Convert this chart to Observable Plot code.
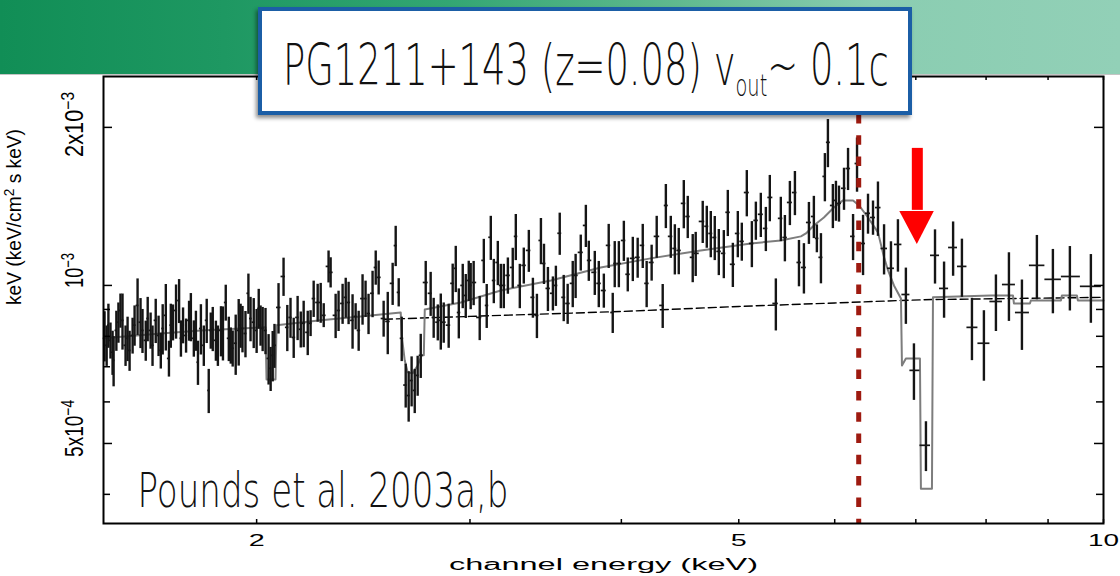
<!DOCTYPE html>
<html>
<head>
<meta charset="utf-8">
<script src="https://cdn.jsdelivr.net/npm/d3@7"></script>
<script src="https://cdn.jsdelivr.net/npm/@observablehq/plot@0.6"></script>
<style>
  html, body { margin: 0; padding: 0; background: #fff; }
  #wrap { position: relative; width: 1120px; height: 576px; overflow: hidden; background: #fff; }
  #chart { position: absolute; left: 0; top: 0; z-index: 1; }
  #banner {
    position: absolute; left: 0; top: 0; width: 1120px; height: 74px; z-index: 2;
    background: linear-gradient(90deg, #118e56 0%, #1e9862 20%, #33a673 40%, #5fb98e 60%, #8acdb1 78%, #92d0b7 100%);
    border-bottom: 1px solid #c4c4c4;
  }
  #titlebox {
    position: absolute; left: 258px; top: 7px; width: 646px; height: 100px; z-index: 3;
    background: #fff; border: 4px solid #1b5ea6;
    box-shadow: -2px 3px 4px rgba(0,0,0,0.45);
  }
  #titlebox svg { position: absolute; left: 0; top: 0; }
  #titlebox text { font-family: "DejaVu Sans", "Liberation Sans", sans-serif; font-weight: 200; fill: #111; }
</style>
</head>
<body>
<div id="wrap">
  <div id="chart"></div>
  <div id="banner"></div>
  <div id="titlebox">
    <svg width="646" height="100">
      <text id="title" x="0" y="0" font-size="57">PG1211+143 (z=0.08) v<tspan font-size="30" dy="11">out</tspan><tspan dy="-11">~ 0.1c</tspan></text>
    </svg>
  </div>
</div>
<script>
// Observed spectrum: channel energy (keV), flux and 1-sigma error (units of 1e-4 keV/cm^2 s keV)
const energy = [
  1.498, 1.504, 1.509, 1.515, 1.521, 1.524, 1.532, 1.538, 1.544, 1.550,
  1.559, 1.565, 1.571, 1.580, 1.586, 1.595, 1.604, 1.610, 1.620, 1.626,
  1.635, 1.641, 1.651, 1.660, 1.667, 1.673, 1.683, 1.693, 1.699, 1.706,
  1.716, 1.726, 1.732, 1.739, 1.749, 1.759, 1.765, 1.775, 1.782, 1.789,
  1.799, 1.809, 1.819, 1.826, 1.833, 1.840, 1.851, 1.858, 1.869, 1.876,
  1.886, 1.897, 1.904, 1.911, 1.922, 1.933, 1.940, 1.947, 1.958, 1.969,
  1.977, 1.989, 2.000, 2.008, 2.015, 2.023, 2.034, 2.046, 2.054, 2.062,
  2.069,
  2.085, 2.105, 2.120, 2.133, 2.146, 2.162, 2.175, 2.187, 2.204, 2.216,
  2.229, 2.246, 2.259, 2.272, 2.293, 2.302, 2.324, 2.337, 2.355, 2.369,
  2.382, 2.400, 2.414, 2.428, 2.446, 2.460, 2.474, 2.493, 2.508, 2.522,
  2.546, 2.566, 2.590, 2.605, 2.620, 2.635, 2.655, 2.670, 2.685, 2.701,
  2.716, 2.732,
  2.758, 2.784, 2.800, 2.822, 2.838, 2.854, 2.881, 2.903, 2.920, 2.937,
  2.959, 2.976, 2.993, 3.004, 3.021, 3.056, 3.080, 3.097, 3.121, 3.139,
  3.163, 3.181, 3.199, 3.224, 3.254, 3.273, 3.298, 3.323, 3.355, 3.381,
  3.407, 3.433, 3.453, 3.479, 3.512, 3.532, 3.558, 3.585, 3.612, 3.647,
  3.667, 3.703, 3.739, 3.760, 3.803, 3.832, 3.869, 3.905, 3.935, 3.950,
  3.981, 4.019, 4.049, 4.088, 4.126, 4.166, 4.197, 4.237, 4.278, 4.327,
  4.353, 4.394, 4.428, 4.461, 4.504, 4.538, 4.581, 4.607, 4.669, 4.705,
  4.741, 4.777, 4.814, 4.860, 4.897, 4.944, 4.991, 5.029, 5.077, 5.126,
  5.165, 5.214, 5.264, 5.304, 5.365, 5.416, 5.458, 5.510, 5.563, 5.606,
  5.659, 5.713, 5.767, 5.800, 5.845, 5.889, 5.923, 5.979, 6.014, 6.049,
  6.107, 6.154, 6.213, 6.260, 6.332, 6.392, 6.453, 6.514, 6.590, 6.677,
  6.766, 6.869, 6.975, 7.136, 7.260, 7.386, 7.514, 7.641, 7.788, 7.967,
  8.151, 8.355, 8.564, 8.811, 9.083, 9.381, 9.763
];
const flux = [
  8.03, 7.69, 8.40, 7.86, 7.46, 7.20, 8.21, 8.51, 8.96, 8.58,
  7.69, 7.93, 7.52, 8.03, 8.40, 9.16, 8.51, 8.21, 7.86, 8.65,
  8.21, 7.69, 8.58, 8.03, 7.52, 8.28, 8.77, 7.26, 8.40, 8.51,
  8.96, 9.36, 7.93, 8.40, 8.03, 8.58, 8.73, 7.93, 8.21, 7.14,
  8.28, 7.69, 8.58, 6.31, 8.21, 8.28, 7.86, 7.69, 8.21, 8.14,
  9.28, 7.93, 7.69, 7.59, 7.76, 8.21, 8.40, 8.28, 8.10, 9.66,
  8.65, 8.51, 8.21, 9.04, 8.40, 8.28, 8.21, 7.26, 6.95, 7.36,
  7.69,
  9.08, 10.40, 8.32, 8.69, 7.96, 8.69, 8.25, 8.47, 8.14, 8.47,
  9.44, 9.28, 9.28, 8.77, 10.87, 10.59, 8.77, 8.96, 9.24, 9.49,
  9.28, 8.58, 8.73, 8.21, 9.44, 9.44, 8.84, 9.66, 10.82, 10.36,
  8.65, 8.54, 10.09, 11.91, 9.70, 7.93, 6.46, 6.17, 6.59, 6.31,
  6.74, 7.36,
  10.13, 9.66, 8.69, 8.51, 8.58, 8.51, 8.40, 10.09, 10.78, 8.88,
  10.00, 9.57, 10.22, 10.00, 10.13, 8.69, 11.16, 9.16, 12.35, 10.22,
  11.06, 10.00, 10.00, 10.45, 10.82, 12.40, 10.00, 10.92, 11.66, 9.49,
  8.77, 12.18, 11.01, 9.87, 9.66, 10.00, 12.57, 9.49, 9.24, 10.09,
  10.45, 11.56, 13.01, 11.16, 10.59, 10.09, 9.78, 11.92, 8.88, 11.01,
  11.01, 12.18, 10.50, 11.26, 11.31, 11.92, 10.09, 11.06, 12.40, 9.16,
  14.20, 12.40, 11.76, 11.66, 14.33, 13.53, 11.31, 11.51, 13.24, 12.96,
  12.56, 12.34, 11.61, 11.51, 13.78, 10.97, 12.56, 12.13, 15.03, 12.02,
  13.30, 13.66, 12.84, 14.71, 9.24, 13.42, 12.34, 14.39, 15.03, 11.06,
  10.82, 13.18, 13.53, 12.29, 11.31, 16.13, 18.73, 14.20, 14.52, 14.33,
  15.31, 16.70, 12.40, 17.07, 12.02, 13.72, 13.47, 14.07, 11.76, 10.78,
  11.97, 9.61, 6.89, 4.96, 11.41, 9.87, 11.81, 10.87, 8.32, 7.76,
  9.32, 10.04, 8.88, 10.92, 10.27, 10.40, 9.96
];
const fluxErr = [
  0.88, 0.68, 0.81, 0.62, 0.72, 0.79, 0.72, 0.75, 0.67, 1.05,
  0.68, 0.77, 0.66, 0.63, 0.74, 1.13, 0.93, 0.79, 0.69, 0.84,
  0.65, 0.68, 0.83, 0.71, 0.59, 0.91, 1.27, 0.57, 0.81, 0.67,
  1.06, 0.90, 0.63, 0.66, 0.60, 0.75, 0.92, 0.63, 0.72, 0.69,
  0.91, 0.68, 0.83, 0.61, 0.65, 0.80, 0.69, 0.68, 0.90, 0.96,
  0.73, 0.77, 0.61, 0.60, 1.02, 1.19, 0.81, 0.84, 0.82, 0.85,
  0.84, 0.93, 0.79, 0.79, 0.74, 0.80, 0.83, 0.80, 0.67, 0.81,
  0.74,
  1.00, 0.87, 0.84, 0.76, 0.70, 0.84, 0.65, 0.86, 0.79, 0.48,
  0.75, 0.77, 0.81, 0.46, 0.76, 0.70, 0.85, 0.79, 0.81, 0.83,
  0.86, 1.02, 0.50, 0.72, 1.04, 0.75, 0.78, 0.98, 0.81, 0.77,
  0.68, 1.16, 0.93, 1.05, 0.60, 0.77, 0.62, 0.68, 0.72, 0.61,
  0.59, 0.71,
  0.98, 0.93, 0.76, 0.67, 1.05, 0.75, 0.81, 0.89, 1.09, 0.97,
  0.97, 0.92, 0.90, 1.01, 0.98, 0.84, 1.08, 0.88, 1.19, 0.99,
  1.07, 0.97, 0.97, 0.83, 0.95, 1.25, 0.97, 0.86, 1.07, 0.83,
  0.85, 1.23, 0.97, 0.95, 0.72, 0.88, 1.16, 0.96, 0.81, 1.02,
  1.01, 0.91, 1.20, 0.98, 1.02, 1.02, 0.73, 1.15, 0.78, 1.11,
  1.11, 1.07, 0.78, 1.09, 0.99, 1.15, 1.02, 0.87, 1.14, 0.88,
  1.37, 1.14, 1.29, 1.18, 1.51, 1.25, 1.19, 1.11, 1.22, 1.19,
  1.27, 1.19, 1.17, 1.21, 1.39, 1.06, 1.27, 1.01, 1.52, 1.21,
  1.11, 1.32, 1.24, 1.49, 1.05, 1.30, 1.25, 1.39, 1.45, 1.12,
  1.19, 1.21, 1.25, 0.75, 1.24, 1.70, 1.97, 1.37, 1.27, 1.13,
  1.41, 1.54, 1.25, 2.02, 1.58, 1.20, 1.01, 1.67, 1.29, 1.33,
  1.37, 1.18, 0.85, 0.54, 1.35, 1.21, 1.40, 1.38, 1.13, 1.19,
  1.15, 1.50, 1.36, 1.53, 1.44, 1.46, 1.49
];

// Best-fit model (histogram through the channels), same units
const modelEnergy = [
  1.495, 1.667, 1.799, 1.940, 2.034, 2.038, 2.073, 2.077, 2.259, 2.437,
  2.630, 2.635, 2.650, 2.665, 2.690, 2.716, 2.737, 2.748, 2.753, 2.948,
  3.181, 3.499, 3.846, 4.229, 4.651, 5.116, 5.416, 5.627, 5.681, 5.767,
  5.878, 5.991, 6.095, 6.213, 6.284, 6.392, 6.514, 6.590, 6.640, 6.715,
  6.805, 6.818, 6.869, 7.055, 7.068, 7.218, 7.232, 8.074, 8.419, 8.435,
  8.695, 8.711, 9.222, 9.240, 9.507, 9.525, 10
];
const modelFlux = [
  7.93, 8.10, 8.21, 8.28, 8.32, 6.62, 6.62, 8.40, 8.58, 8.73,
  8.88, 8.03, 7.20, 6.83, 6.80, 7.04, 7.36, 7.36, 9.00, 9.28,
  9.78, 10.22, 10.82, 11.26, 11.66, 12.02, 12.18, 12.40, 12.56, 13.01,
  13.47, 14.07, 14.52, 14.52, 14.20, 13.47, 12.62, 11.31, 10.68, 10.00,
  9.44, 7.04, 7.26, 7.26, 4.10, 4.10, 9.49, 9.57, 9.57, 9.24,
  9.24, 9.36, 9.36, 9.57, 9.57, 9.36, 9.36
];

// Continuum without the absorption/emission features (dashed)
const contEnergy = [2.55, 3.0, 4.0, 5.0, 6.0, 6.8, 7.23, 10];
const contFlux = [8.62, 8.73, 8.92, 9.12, 9.26, 9.36, 9.40, 9.49];

// Axes
const xTickValues = [2, 3, 4, 5, 6, 7, 8, 9, 10];
const xLabelValues = [2, 5, 10];
const yMinorTicks = [4, 6, 7, 8, 9];
const yMajorTicks = [5, 10, 20];
const yLabelValues = [20, 10, 5];
const yLabelMantissa = ["2x10", "10", "5x10"];
const yLabelExponent = ["−3", "−3", "−4"];

// Annotations: Fe K line energy marker and the arrow at the absorption trough
const lineEnergy = [6.28];
const arrowEnergy = 7.02;
const arrowHeadEnergy = [6.79, 7.02, 7.25];
const arrowFlux = {top: 18.24, base: 13.83, tip: 11.97};

const U = 1e-4;
const W = 1120, H = 576, mT = 76, mB = 53, mL = 103, mR = 17;
const innerW = W - mL - mR, innerH = H - mT - mB;

// Each channel's horizontal bar spans to the geometric midpoints of its neighbours
const points = energy.map((e, i) => {
  const prev = i > 0 ? energy[i - 1] : e * e / energy[i + 1];
  const next = i < energy.length - 1 ? energy[i + 1] : e * e / energy[i - 1];
  return {e, f: flux[i] * U, err: fluxErr[i] * U, lo: Math.sqrt(prev * e), hi: Math.sqrt(e * next)};
});
const model = modelEnergy.map((e, i) => ({e, f: modelFlux[i] * U}));
const cont = contEnergy.map((e, i) => ({e, f: contFlux[i] * U}));
const head = arrowHeadEnergy.map((e, i) => ({e, base: arrowFlux.base * U, f: (i === 1 ? arrowFlux.tip : arrowFlux.base) * U}));

const yLabelShift = [-3, -15, -15];

const chart = Plot.plot({
  width: W, height: H,
  marginTop: mT, marginBottom: mB, marginLeft: mL, marginRight: mR,
  style: {background: "white", overflow: "visible"},
  x: {type: "log", domain: [1.495, 10], axis: null},
  y: {type: "log", domain: [3.52e-4, 2.5e-3], axis: null},
  marks: [
    Plot.line(cont, {x: "e", y: "f", stroke: "#000", strokeWidth: 1.4, strokeDasharray: "8,4"}),
    Plot.line(model, {x: "e", y: "f", stroke: "#7d7d7d", strokeWidth: 2}),
    Plot.ruleX(points, {x: "e", y1: d => d.f - d.err, y2: d => d.f + d.err, stroke: "#151515", strokeWidth: 2.4}),
    Plot.ruleY(points, {y: "f", x1: "lo", x2: "hi", stroke: "#151515", strokeWidth: 1.7}),
    Plot.ruleX(lineEnergy, {stroke: "#9e1a10", strokeWidth: 5, strokeDasharray: "9.5,11.8", strokeDashoffset: 4.6}),
    Plot.ruleX([arrowEnergy], {y1: arrowFlux.base * U * 1.005, y2: arrowFlux.top * U, stroke: "#ff0000", strokeWidth: 11}),
    Plot.areaY(head, {x: "e", y1: "base", y2: "f", fill: "#ff0000"}),
    // inward ticks on all four sides
    Plot.ruleX(xTickValues, {insetTop: innerH - 4, stroke: "#000", strokeWidth: 1.5}),
    Plot.ruleX(xTickValues, {insetBottom: innerH - 4, stroke: "#000", strokeWidth: 1.5}),
    Plot.ruleY(yMajorTicks.map(v => v * U), {insetRight: innerW - 9, stroke: "#000", strokeWidth: 1.5}),
    Plot.ruleY(yMinorTicks.map(v => v * U), {insetRight: innerW - 7, stroke: "#000", strokeWidth: 1.5}),
    Plot.ruleY(yMajorTicks.map(v => v * U), {insetLeft: innerW - 9, stroke: "#000", strokeWidth: 1.5}),
    Plot.ruleY(yMinorTicks.map(v => v * U), {insetLeft: innerW - 7, stroke: "#000", strokeWidth: 1.5}),
    Plot.frame({stroke: "#000", strokeWidth: 2}),
    // axis labels
    Plot.text(xLabelValues, {x: d => d, text: d => String(d), frameAnchor: "bottom", dy: 22, lineAnchor: "bottom",
      fontSize: 17, fontFamily: "Liberation Sans, Arial, sans-serif", fill: "#000"}),
    Plot.text(["channel energy (keV)"], {text: d => d, frameAnchor: "bottom", dy: 46, lineAnchor: "bottom",
      fontSize: 16, fontFamily: "Liberation Sans, Arial, sans-serif", fill: "#000"}),
    ...yLabelValues.map((v, i) => Plot.text([v], {y: d => d * U, text: () => yLabelMantissa[i] + "^" + yLabelExponent[i],
      frameAnchor: "left", dx: -29, dy: yLabelShift[i], rotate: -90, lineAnchor: "middle", textAnchor: "middle",
      fontSize: 25, fontFamily: "Liberation Sans Narrow, Liberation Sans, sans-serif", fill: "#000"})),
    Plot.text(["keV (keV/cm^2 s keV)"], {text: d => d, frameAnchor: "left", dx: -89, dy: 5, rotate: -90,
      lineAnchor: "middle", fontSize: 21, fontFamily: "Liberation Sans Narrow, Liberation Sans, sans-serif", fill: "#000"}),
    Plot.text(["Pounds et al. 2003a,b"], {text: d => d, frameAnchor: "bottom-left", dx: 34, dy: -17,
      textAnchor: "start", lineAnchor: "bottom", fontSize: 48, fontWeight: 200,
      fontFamily: "DejaVu Sans, Liberation Sans, sans-serif", fill: "#111"})
  ]
});

// Render "a^b" as a raised exponent
d3.select(chart).selectAll("text").each(function () {
  const s = this.textContent;
  if (s.includes("^")) {
    const m = s.match(/^(.*?)\^(\S+)(.*)$/);
    const t = d3.select(this).text(null);
    t.append("tspan").text(m[1]);
    t.append("tspan").attr("dy", "-0.45em").attr("font-size", "72%").text(m[2]);
    if (m[3]) t.append("tspan").attr("dy", "0.32em").text(m[3]);
  }
});

// The plotting font is drawn stretched/condensed; fix each label's extent
const textExtent = {
  "2": 16, "5": 16, "10": 31,
  "channel energy (keV)": 309,
  "2x10−3": 65, "10−3": 35, "5x10−4": 57,
  "keV (keV/cm2 s keV)": 176,
  "Pounds et al. 2003a,b": 371
};
d3.select(chart).selectAll("text").each(function () {
  const len = textExtent[this.textContent];
  if (len) {
    this.setAttribute("textLength", len);
    this.setAttribute("lengthAdjust", "spacingAndGlyphs");
  }
});

document.getElementById("chart").appendChild(chart);

// Title: condense the headline horizontally so it fills the box
const title = document.getElementById("title");
const natural = title.getComputedTextLength();
title.setAttribute("transform", `translate(21,74) scale(${606 / natural},1)`);
</script>
</body>
</html>
